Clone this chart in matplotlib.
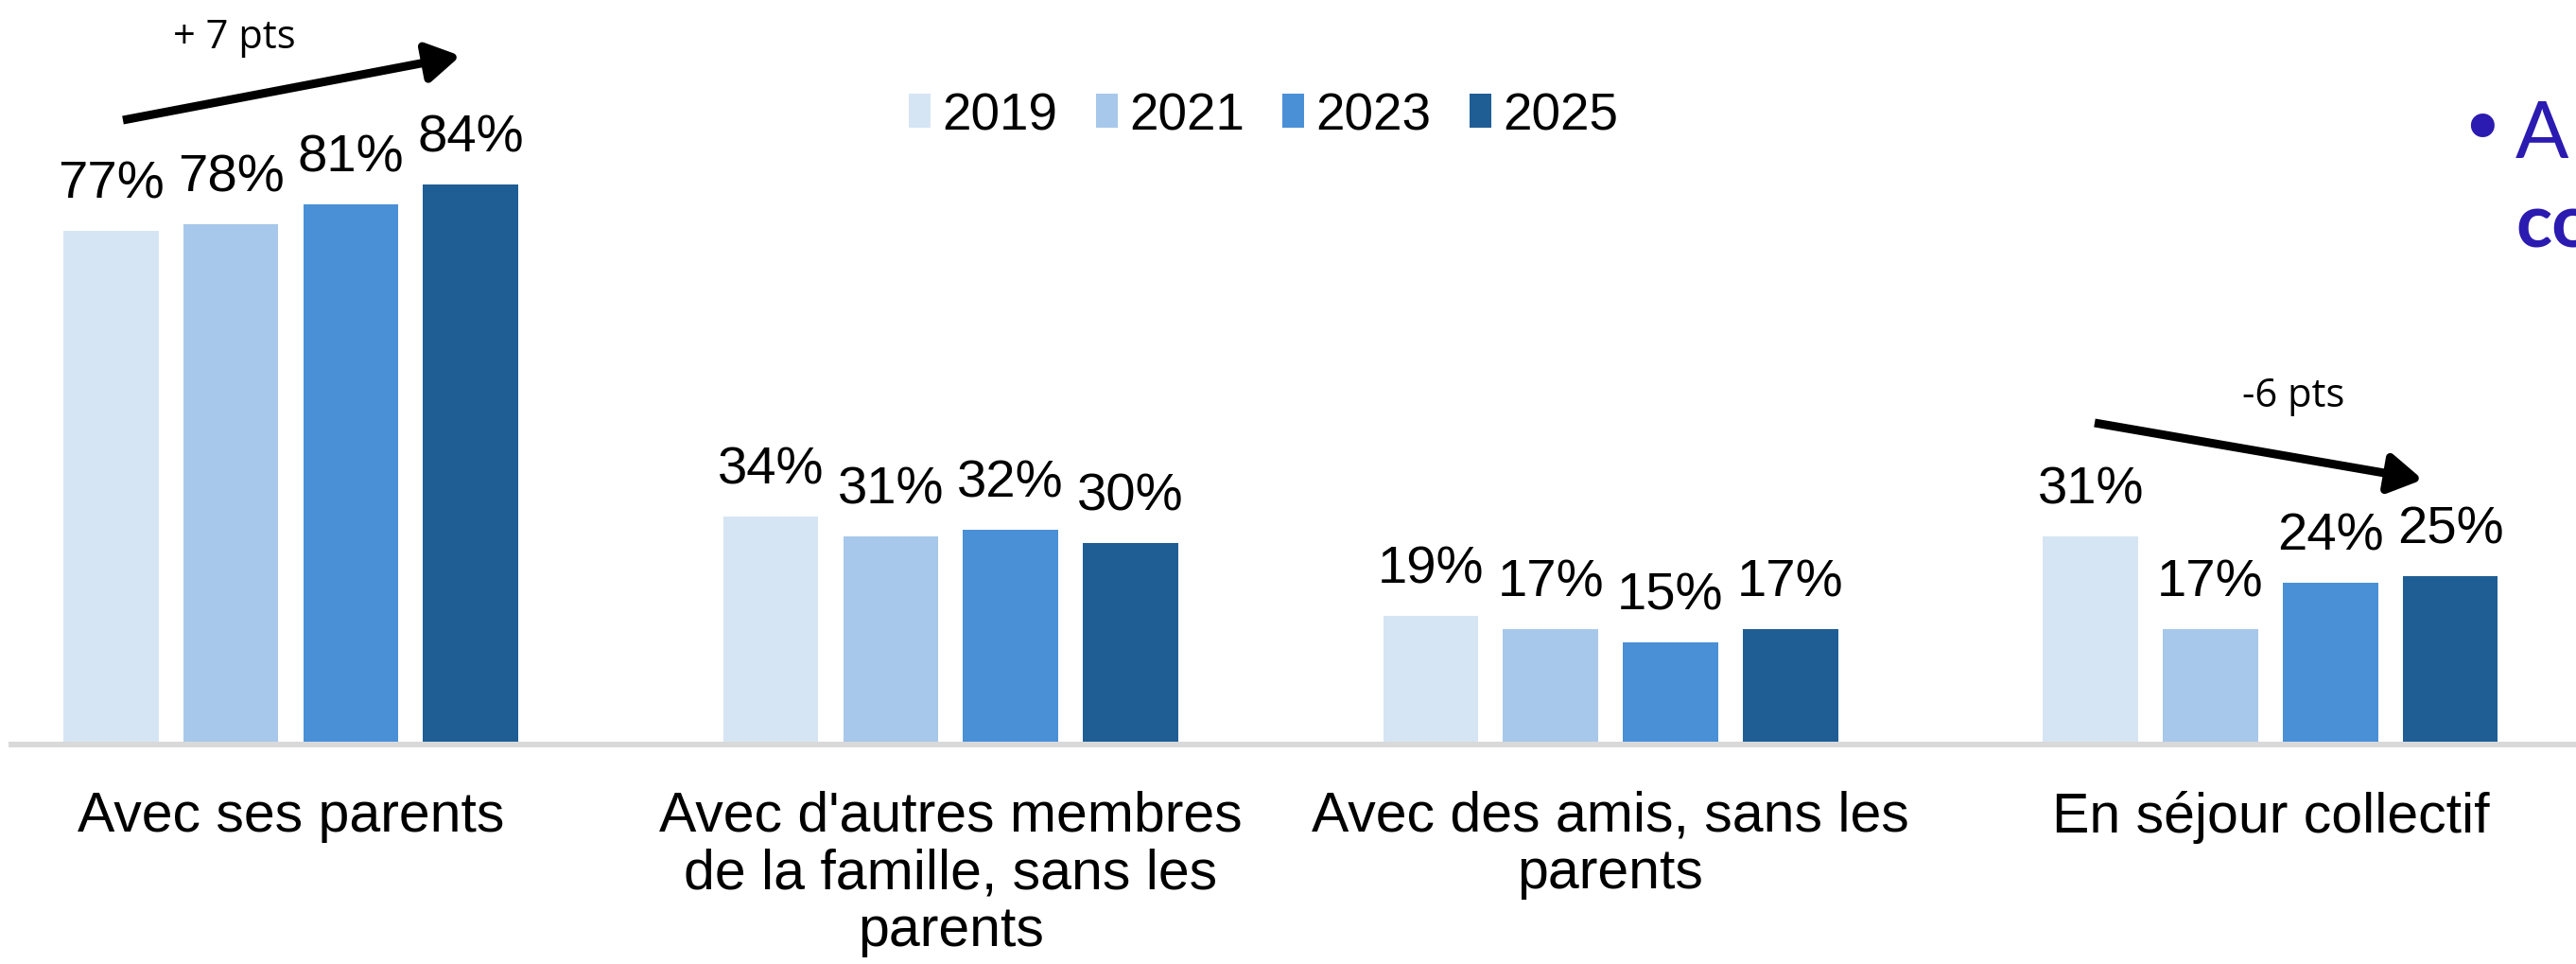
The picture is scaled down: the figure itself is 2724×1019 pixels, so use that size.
import numpy as np
import matplotlib
matplotlib.use("Agg")
import matplotlib.pyplot as plt
from matplotlib.patches import FancyArrowPatch

# ---- data ----
categories = ["Avec ses parents",
              "Avec d'autres membres\nde la famille, sans les\nparents",
              "Avec des amis, sans les\nparents",
              "En séjour collectif"]
years = ["2019", "2021", "2023", "2025"]
v2019 = [77, 34, 19, 31]
v2021 = [78, 31, 17, 17]
v2023 = [81, 32, 15, 24]
v2025 = [84, 30, 17, 25]
series = [v2019, v2021, v2023, v2025]
colors = ["#D6E5F4", "#A7C8EA", "#4A90D6", "#1F5E95"]

W, H = 2724, 1020
fig = plt.figure(figsize=(W / 100, H / 100), dpi=100)


def fx(px):
    return px / W


def fy(py):
    return 1 - py / H


FONT = "Liberation Sans"
ax = fig.add_axes([fx(12), fy(785), 1 - fx(12), 785 / H])
step = 0.1817
width = 0.1444
x = np.arange(len(categories))
for i, (vals, c, yr) in enumerate(zip(series, colors, years)):
    pos = x + (i - 1.5) * step
    bars = ax.bar(pos, vals, width, color=c, label=yr, zorder=2)
    for b, v in zip(bars, vals):
        ax.annotate(f"{v}%", (b.get_x() + b.get_width() / 2, v),
                    xytext=(0, 17), textcoords="offset points",
                    ha="center", va="bottom", fontsize=40.5, family=FONT)

ax.set_xlim(-0.4235, 3.4631)
ax.set_ylim(0, 112)
for s in ["top", "left", "right"]:
    ax.spines[s].set_visible(False)
ax.spines["bottom"].set_color("#D9D9D9")
ax.spines["bottom"].set_linewidth(4.3)
ax.spines["bottom"].set_position(("outward", 2.5))
ax.spines["bottom"].set_zorder(3)
ax.set_yticks([])
ax.set_xticks(x)
ax.set_xticklabels(categories, fontsize=42.5, family=FONT, linespacing=1.13)
ax.tick_params(axis="x", length=0, pad=34)
ax.patch.set_alpha(0)

leg = fig.legend(loc="center", bbox_to_anchor=(fx(1336), fy(123)), ncol=4,
                 frameon=False, prop={"family": FONT, "size": 39.5},
                 handlelength=0.42, handleheight=0.64, handletextpad=0.22,
                 columnspacing=0.74)

# ---- annotations ----
def arrow(p0, p1):
    a = FancyArrowPatch(posA=(fx(p0[0]), fy(p0[1])), posB=(fx(p1[0]), fy(p1[1])),
                        transform=fig.transFigure,
                        arrowstyle="-|>,head_length=2.1,head_width=1.25",
                        mutation_scale=10, lw=6.5, color="black",
                        shrinkA=0, shrinkB=0, joinstyle="round", capstyle="butt")
    fig.add_artist(a)


arrow((130, 128), (487, 60))
arrow((2215, 448), (2562, 508))
fig.text(fx(248), fy(40), "+ 7 pts", ha="center", va="center", fontsize=30, family="Open Sans")
fig.text(fx(2425), fy(419), "-6 pts", ha="center", va="center", fontsize=30, family="Open Sans")

purple = "#2B1BB0"
fig.text(fx(2624), fy(141), "•", ha="center", va="center", fontsize=62, family="DejaVu Sans", color=purple)
fig.text(fx(2660), fy(167), "A", ha="left", va="baseline", fontsize=60, family="Lato", color=purple)
fig.text(fx(2660), fy(262), "co", ha="left", va="baseline", fontsize=57, family="Lato",
         fontweight="bold", color=purple)

fig.savefig("out.png", dpi=100)
